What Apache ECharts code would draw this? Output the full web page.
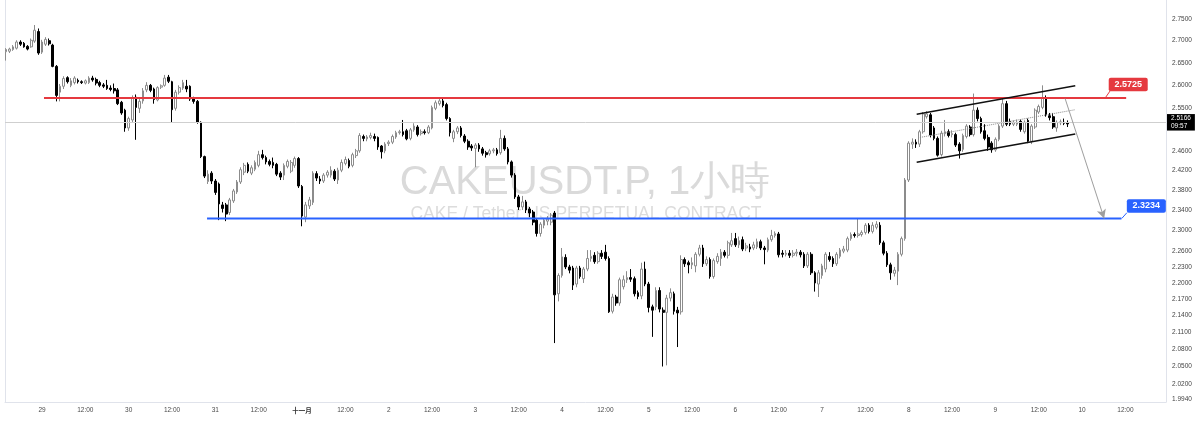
<!DOCTYPE html>
<html><head><meta charset="utf-8">
<script src="https://cdn.jsdelivr.net/npm/echarts@6/dist/echarts.min.js"></script>
<style>html,body{margin:0;padding:0;background:#fff}#c{width:1200px;height:421px}</style>
</head><body><div id="c"></div>
<script>
// hours counted from 29 Oct 00:00; first candle = 28 Oct 14:00
const firstHour = -10;
// [open, close, low, high]
const candles = [
[2.675,2.680,2.655,2.683],[2.676,2.681,2.672,2.684],[2.680,2.686,2.677,2.690],[2.683,2.697,2.680,2.701],[2.697,2.692,2.688,2.701],
[2.694,2.686,2.684,2.697],[2.687,2.681,2.678,2.690],[2.686,2.701,2.684,2.705],[2.699,2.724,2.695,2.736],[2.721,2.672,2.668,2.728],
[2.674,2.697,2.670,2.702],[2.692,2.703,2.688,2.708],[2.700,2.693,2.689,2.705],[2.690,2.642,2.640,2.693],[2.642,2.578,2.565,2.645],
[2.585,2.598,2.565,2.603],[2.598,2.615,2.592,2.620],[2.617,2.608,2.604,2.620],[2.600,2.610,2.596,2.616],[2.606,2.616,2.602,2.620],
[2.611,2.608,2.604,2.615],[2.608,2.606,2.603,2.611],[2.605,2.610,2.602,2.613],[2.606,2.616,2.603,2.620],[2.616,2.612,2.608,2.621],
[2.613,2.605,2.600,2.617],[2.606,2.600,2.596,2.610],[2.601,2.598,2.594,2.605],[2.600,2.593,2.590,2.612],[2.594,2.591,2.587,2.600],
[2.593,2.588,2.582,2.604],[2.590,2.560,2.557,2.594],[2.563,2.540,2.536,2.566],[2.546,2.508,2.500,2.549],[2.508,2.528,2.502,2.532],
[2.525,2.572,2.520,2.578],[2.574,2.552,2.483,2.580],[2.550,2.565,2.540,2.570],[2.566,2.588,2.560,2.594],[2.590,2.600,2.585,2.607],
[2.600,2.589,2.585,2.603],[2.592,2.569,2.560,2.595],[2.568,2.595,2.565,2.598],[2.596,2.599,2.592,2.602],[2.600,2.616,2.597,2.623],
[2.618,2.609,2.605,2.623],[2.608,2.547,2.520,2.610],[2.550,2.585,2.545,2.590],[2.585,2.595,2.580,2.600],[2.594,2.606,2.590,2.612],
[2.598,2.592,2.585,2.612],[2.598,2.570,2.566,2.600],[2.570,2.565,2.560,2.575],[2.565,2.520,2.517,2.568],[2.520,2.448,2.445,2.522],
[2.448,2.408,2.404,2.450],[2.397,2.412,2.392,2.420],[2.414,2.398,2.392,2.418],[2.398,2.375,2.370,2.402],[2.392,2.352,2.320,2.395],
[2.350,2.343,2.335,2.356],[2.350,2.332,2.318,2.354],[2.335,2.360,2.330,2.364],[2.358,2.378,2.354,2.382],[2.376,2.396,2.372,2.400],
[2.396,2.421,2.392,2.426],[2.416,2.430,2.410,2.435],[2.432,2.418,2.414,2.436],[2.414,2.425,2.410,2.430],[2.422,2.436,2.418,2.440],
[2.430,2.452,2.426,2.460],[2.452,2.446,2.442,2.462],[2.446,2.437,2.432,2.450],[2.438,2.432,2.428,2.442],[2.436,2.430,2.424,2.446],
[2.432,2.412,2.408,2.435],[2.414,2.406,2.400,2.418],[2.410,2.430,2.400,2.434],[2.428,2.438,2.424,2.442],[2.418,2.436,2.414,2.441],
[2.430,2.444,2.425,2.448],[2.444,2.388,2.384,2.447],[2.387,2.328,2.308,2.390],[2.326,2.350,2.316,2.356],[2.348,2.360,2.342,2.366],
[2.355,2.414,2.350,2.418],[2.413,2.404,2.398,2.418],[2.402,2.398,2.392,2.408],[2.398,2.410,2.394,2.414],[2.410,2.416,2.405,2.420],
[2.410,2.420,2.405,2.428],[2.418,2.402,2.398,2.422],[2.400,2.420,2.392,2.425],[2.420,2.436,2.416,2.442],[2.434,2.442,2.430,2.448],
[2.440,2.428,2.424,2.444],[2.430,2.452,2.426,2.456],[2.450,2.460,2.445,2.464],[2.460,2.492,2.456,2.497],[2.490,2.486,2.480,2.494],
[2.485,2.489,2.480,2.493],[2.488,2.492,2.484,2.498],[2.490,2.486,2.480,2.496],[2.488,2.468,2.462,2.490],[2.470,2.458,2.444,2.472],
[2.460,2.474,2.455,2.478],[2.475,2.478,2.470,2.482],[2.478,2.490,2.474,2.494],[2.489,2.498,2.485,2.502],[2.498,2.500,2.494,2.504],
[2.500,2.494,2.490,2.525],[2.502,2.485,2.482,2.506],[2.486,2.504,2.482,2.508],[2.504,2.512,2.500,2.518],[2.510,2.494,2.490,2.514],
[2.496,2.500,2.492,2.505],[2.500,2.498,2.494,2.505],[2.498,2.510,2.495,2.514],[2.508,2.552,2.505,2.556],[2.550,2.562,2.546,2.567],
[2.560,2.566,2.556,2.572],[2.566,2.556,2.552,2.574],[2.558,2.528,2.524,2.562],[2.528,2.498,2.490,2.531],[2.486,2.500,2.478,2.504],
[2.500,2.508,2.495,2.512],[2.508,2.492,2.488,2.512],[2.491,2.480,2.476,2.495],[2.480,2.468,2.462,2.484],[2.470,2.466,2.460,2.474],
[2.465,2.472,2.426,2.476],[2.472,2.464,2.458,2.476],[2.464,2.455,2.450,2.468],[2.456,2.452,2.446,2.460],[2.454,2.460,2.450,2.464],
[2.460,2.462,2.455,2.466],[2.462,2.454,2.450,2.466],[2.456,2.486,2.452,2.504],[2.486,2.464,2.460,2.492],[2.464,2.437,2.432,2.468],
[2.437,2.410,2.405,2.440],[2.410,2.366,2.362,2.414],[2.366,2.346,2.340,2.370],[2.346,2.356,2.340,2.368],[2.356,2.340,2.334,2.360],
[2.342,2.334,2.326,2.346],[2.336,2.316,2.310,2.340],[2.320,2.294,2.288,2.323],[2.294,2.312,2.288,2.316],[2.310,2.320,2.304,2.324],
[2.318,2.322,2.310,2.328],[2.316,2.330,2.310,2.334],[2.334,2.178,2.091,2.338],[2.180,2.214,2.166,2.218],[2.214,2.249,2.210,2.266],
[2.248,2.230,2.226,2.254],[2.230,2.224,2.218,2.234],[2.228,2.196,2.187,2.232],[2.198,2.228,2.192,2.232],[2.228,2.212,2.208,2.232],
[2.208,2.226,2.200,2.230],[2.226,2.246,2.222,2.262],[2.246,2.250,2.240,2.262],[2.252,2.240,2.236,2.258],[2.240,2.256,2.236,2.260],
[2.256,2.250,2.245,2.262],[2.258,2.246,2.242,2.272],[2.246,2.147,2.145,2.250],[2.148,2.174,2.144,2.180],[2.174,2.163,2.158,2.178],
[2.163,2.206,2.158,2.210],[2.193,2.206,2.188,2.214],[2.206,2.210,2.200,2.222],[2.210,2.207,2.202,2.226],[2.208,2.180,2.175,2.212],
[2.182,2.175,2.170,2.186],[2.176,2.226,2.170,2.238],[2.226,2.198,2.194,2.240],[2.198,2.155,2.146,2.202],[2.156,2.150,2.102,2.160],
[2.156,2.186,2.150,2.192],[2.186,2.152,2.146,2.192],[2.150,2.146,2.050,2.155],[2.146,2.172,2.052,2.178],[2.172,2.182,2.166,2.190],
[2.180,2.148,2.142,2.184],[2.150,2.145,2.084,2.156],[2.147,2.244,2.142,2.252],[2.244,2.236,2.230,2.248],[2.238,2.234,2.218,2.242],
[2.234,2.238,2.226,2.248],[2.232,2.254,2.220,2.258],[2.254,2.266,2.250,2.272],[2.266,2.236,2.230,2.272],[2.236,2.244,2.232,2.250],
[2.244,2.212,2.208,2.248],[2.212,2.242,2.208,2.246],[2.240,2.250,2.236,2.256],[2.246,2.258,2.232,2.264],[2.258,2.252,2.248,2.262],
[2.252,2.276,2.246,2.280],[2.272,2.280,2.268,2.295],[2.284,2.272,2.268,2.295],[2.272,2.280,2.266,2.288],[2.282,2.264,2.260,2.288],
[2.266,2.270,2.260,2.276],[2.268,2.264,2.258,2.274],[2.266,2.272,2.262,2.278],[2.268,2.278,2.264,2.284],[2.278,2.266,2.262,2.282],
[2.266,2.263,2.235,2.270],[2.262,2.282,2.258,2.286],[2.282,2.290,2.278,2.301],[2.290,2.294,2.286,2.298],[2.293,2.253,2.248,2.297],
[2.256,2.254,2.248,2.262],[2.254,2.256,2.250,2.262],[2.256,2.252,2.247,2.262],[2.252,2.256,2.248,2.262],[2.256,2.258,2.250,2.264],
[2.258,2.253,2.248,2.262],[2.254,2.232,2.228,2.258],[2.232,2.254,2.228,2.258],[2.254,2.219,2.215,2.258],[2.219,2.200,2.184,2.222],
[2.198,2.219,2.174,2.224],[2.214,2.232,2.208,2.236],[2.226,2.254,2.220,2.258],[2.250,2.244,2.240,2.258],[2.246,2.236,2.230,2.250],
[2.236,2.254,2.232,2.258],[2.250,2.262,2.246,2.266],[2.260,2.264,2.256,2.270],[2.262,2.284,2.258,2.288],[2.284,2.292,2.280,2.296],
[2.292,2.290,2.286,2.296],[2.290,2.293,2.286,2.324],[2.292,2.296,2.288,2.300],[2.296,2.310,2.292,2.314],[2.310,2.298,2.294,2.314],
[2.298,2.310,2.294,2.316],[2.306,2.312,2.302,2.318],[2.310,2.276,2.272,2.316],[2.276,2.256,2.252,2.280],[2.256,2.234,2.230,2.260],
[2.234,2.219,2.206,2.238],[2.218,2.224,2.212,2.230],[2.222,2.254,2.196,2.258],[2.254,2.284,2.250,2.288],[2.284,2.400,2.280,2.404],
[2.400,2.476,2.396,2.480],[2.474,2.478,2.464,2.486],[2.478,2.474,2.466,2.484],[2.474,2.500,2.468,2.504],[2.500,2.538,2.496,2.542],
[2.532,2.538,2.528,2.544],[2.536,2.493,2.488,2.540],[2.508,2.486,2.482,2.512],[2.486,2.451,2.448,2.490],[2.452,2.497,2.448,2.502],
[2.496,2.500,2.490,2.525],[2.500,2.492,2.488,2.505],[2.494,2.496,2.488,2.503],[2.494,2.472,2.468,2.498],[2.474,2.460,2.444,2.478],
[2.463,2.492,2.458,2.496],[2.490,2.512,2.486,2.516],[2.510,2.494,2.490,2.514],[2.494,2.546,2.490,2.582],[2.546,2.528,2.522,2.552],
[2.528,2.500,2.496,2.532],[2.502,2.486,2.482,2.516],[2.488,2.468,2.460,2.494],[2.476,2.462,2.456,2.480],[2.462,2.484,2.458,2.488],
[2.484,2.512,2.480,2.516],[2.512,2.560,2.508,2.572],[2.560,2.516,2.512,2.566],[2.522,2.516,2.512,2.528],[2.516,2.520,2.512,2.524],
[2.516,2.520,2.512,2.526],[2.522,2.505,2.500,2.526],[2.500,2.520,2.496,2.524],[2.524,2.480,2.476,2.528],[2.480,2.512,2.474,2.516],
[2.510,2.546,2.506,2.550],[2.542,2.554,2.538,2.558],[2.552,2.572,2.548,2.600],[2.572,2.536,2.532,2.578],[2.534,2.530,2.524,2.540],
[2.532,2.510,2.506,2.540],[2.508,2.520,2.500,2.524],[2.519,2.521,2.514,2.526],[2.520,2.518,2.514,2.528],[2.519,2.5166,2.510,2.524]
];
const timeTicks = [0,12,24,36,48,60,72,84,96,108,120,132,144,156,168,180,192,204,216,228,240,252,264,276,288,300];
const timeTickLabels = ['29','12:00','30','12:00','31','12:00','十一月','12:00','2','12:00','3','12:00','4','12:00','5','12:00','6','12:00','7','12:00','8','12:00','9','12:00','10','12:00'];
const priceTicks = [2.75,2.70,2.65,2.60,2.55,2.46,2.42,2.38,2.34,2.30,2.26,2.23,2.20,2.17,2.14,2.11,2.08,2.05,2.02,1.994];
const lastPrice = 2.5166;
const countdown = '09:57';
const resistance = {price: 2.5725, fromHour: 0.55, toHour: 300.2, tagHour: 294.4};
const support = {price: 2.3234, fromHour: 45.7, toHour: 298.9, tagHour: 299.0};
const channelUpper = [[242.2, 2.5374], [286.1, 2.5992]];
const channelLower = [[242.2, 2.4364], [286.1, 2.4953]];
const channelMid = [[243.1, 2.4880], [286.1, 2.5470]];
const projection = [[283.3, 2.5710], [294.1, 2.3234]];
const title = 'CAKEUSDT.P, 1小時';
const subtitle = 'CAKE / Tether US PERPETUAL CONTRACT';

const FONT = "'Liberation Sans', Arial, sans-serif";
const RED = '#e5393f', BLUE = '#2962ff', BORDER = '#e0e3eb';
const TAG_SHAPE = 'path://M2,0 H37 Q39,0 39,2 V11.5 Q39,13.5 37,13.5 H2 Q0,13.5 0,11.5 V2 Q0,0 2,0 Z';
const chart = echarts.init(document.getElementById('c'), null, {renderer: 'canvas'});

function segment(name, pts, style, extra) {
  return Object.assign({
    type: 'line', name, data: pts, showSymbol: false, symbol: 'none', silent: true,
    lineStyle: style, z: 4, animation: false
  }, extra || {});
}
function tag(level, color, offset) {
  return {
    symbol: TAG_SHAPE, symbolSize: [39, 13.5], symbolKeepAspect: false, symbolOffset: offset, silent: true,
    itemStyle: {color},
    label: {show: true, position: 'inside', color: '#fff', fontSize: 9, fontWeight: 'bold', fontFamily: FONT,
      formatter: () => level.price.toFixed(4)},
    data: [{coord: [level.tagHour, level.price]}]
  };
}

const option = {
  animation: false,
  backgroundColor: '#ffffff',
  grid: {left: 5, right: 34, top: 0, bottom: 19},
  graphic: [
    {type: 'text', z: -10, silent: true, x: 585, y: 183,
      style: {text: title, fill: '#dadada', font: '40px ' + FONT, align: 'center', verticalAlign: 'middle'}},
    {type: 'text', z: -10, silent: true, x: 586, y: 214,
      style: {text: subtitle, fill: '#dcdcdc', font: '17.5px ' + FONT, align: 'center', verticalAlign: 'middle'}}
  ],
  xAxis: {
    type: 'value', min: firstHour - 0.246, max: 311.23,
    axisLine: {show: true, onZero: false, lineStyle: {color: BORDER}}, axisTick: {show: false}, splitLine: {show: false},
    axisLabel: {
      customValues: timeTicks, margin: 5, color: '#4a4a4a', fontSize: 6.5, fontFamily: FONT,
      formatter: v => {
        const i = timeTicks.indexOf(v);
        const s = i >= 0 ? timeTickLabels[i] : '';
        return s === '十一月' ? '{b|' + s + '}' : s;
      },
      rich: {b: {fontWeight: 'bold', fontSize: 6.5, color: '#333', fontFamily: "'Noto Sans CJK SC', sans-serif"}}
    }
  },
  yAxis: [{
    type: 'log', logBase: 10, position: 'right', min: 1.9894, max: 2.7945,
    axisLine: {show: true, onZero: false, lineStyle: {color: BORDER}}, axisTick: {show: false}, splitLine: {show: false},
    axisLabel: {customValues: priceTicks, margin: 6, color: '#444', fontSize: 6.5, fontFamily: FONT,
      formatter: v => Number(v).toFixed(4)}
  }, {
    type: 'value', position: 'left', min: 0, max: 1,
    axisLine: {show: true, onZero: false, lineStyle: {color: BORDER}}, axisTick: {show: false},
    axisLabel: {show: false}, splitLine: {show: false}
  }],
  series: [
    {
      type: 'candlestick', name: 'CAKEUSDT.P',
      data: candles.map((c, i) => [firstHour + i, c[0], c[1], c[2], c[3]]),
      encode: {x: 0, y: [1, 2, 3, 4]},
      barWidth: 2.2, z: 3,
      itemStyle: {color: '#ffffff', color0: '#000000', borderColor: '#8c8c8c', borderColor0: '#000000', borderWidth: 1},
      markLine: {
        silent: true, symbol: 'none', animation: false,
        lineStyle: {color: '#cfcfcf', width: 1, type: 'solid'},
        label: {show: true, position: 'end', distance: 1, formatter: () => lastPrice.toFixed(4) + '\n' + countdown,
          backgroundColor: '#000', color: '#fff', fontSize: 6.5, lineHeight: 7.5, padding: [1, 4, 0.5, 4], fontFamily: FONT},
        data: [{yAxis: lastPrice}]
      }
    },
    segment('resistance', [[resistance.fromHour, resistance.price], [resistance.toHour, resistance.price]],
      {color: RED, width: 2}, {markPoint: tag(resistance, RED, [23, -13.5])}),
    segment('resistance-tag', [[resistance.tagHour, resistance.price], [295.8, 2.5883]], {color: RED, width: 1}),
    segment('support', [[support.fromHour, support.price], [support.toHour, support.price]],
      {color: BLUE, width: 2}, {markPoint: tag(support, BLUE, [24.5, -12.5])}),
    segment('support-tag', [[support.tagHour, support.price], [300.4, 2.3346]], {color: BLUE, width: 1}),
    segment('channel-upper', channelUpper, {color: '#111', width: 1.5}),
    segment('channel-lower', channelLower, {color: '#111', width: 1.5}),
    segment('channel-mid', channelMid, {color: '#888', width: 1, type: 'dotted'}),
    {
      type: 'line', name: 'projection', data: [], silent: true,
      markLine: {
        silent: true, animation: false, symbol: ['none', 'arrow'], symbolSize: [7, 9],
        lineStyle: {color: '#9e9e9e', width: 1, type: 'solid'}, label: {show: false},
        data: [[{coord: projection[0]}, {coord: projection[1]}]]
      }
    }
  ]
};
chart.setOption(option);
</script>
</body></html>
